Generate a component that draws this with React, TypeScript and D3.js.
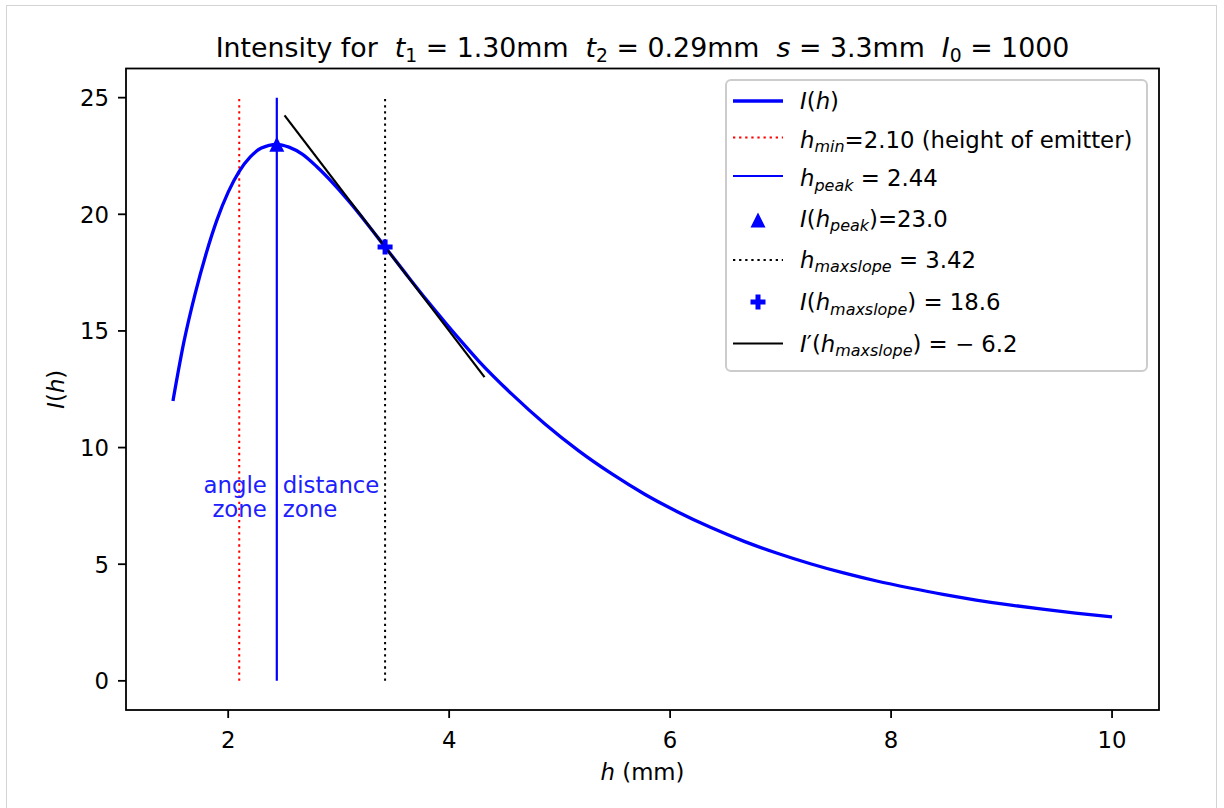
import React from 'react';
import * as d3 from 'd3';

// ---- data ----
const hValues = [1.5, 1.6, 1.7, 1.8, 1.9, 2.0, 2.1, 2.2, 2.3, 2.44, 2.55, 2.67, 2.8, 2.95, 3.1, 3.25, 3.42, 3.6, 3.8, 3.97, 4.12, 4.27, 4.57, 4.87, 5.17, 5.47, 5.77, 6.07, 6.37, 6.67, 6.97, 7.27, 7.57, 7.87, 8.17, 8.47, 8.77, 9.07, 9.37, 9.67, 10.0];
const intensityValues = [12.0, 14.55, 16.58, 18.31, 19.78, 20.95, 21.84, 22.46, 22.84, 23.0, 22.88, 22.58, 22.05, 21.33, 20.52, 19.64, 18.6, 17.5, 16.3, 15.33, 14.5, 13.7, 12.28, 11.0, 9.87, 8.88, 8.0, 7.24, 6.57, 5.98, 5.47, 5.02, 4.625, 4.28, 3.98, 3.705, 3.465, 3.255, 3.07, 2.905, 2.745];
const xTicks = [2, 4, 6, 8, 10];
const yTicks = [0, 5, 10, 15, 20, 25];
const hMin = 2.1;
const hPeak = 2.44;
const iPeak = 23.0;
const hMaxSlope = 3.42;
const iMaxSlope = 18.6;
const maxSlope = -6.2;
const tangentH = [2.51, 4.32];
const vLineSpan = [0, 25];
const xDomain = [1.075, 10.425];
const yDomain = [-1.25, 26.25];
const zoneY = 8;

type Seg = { t: string; i?: boolean; s?: boolean };

const FONT = '"DejaVu Sans", sans-serif';

function Rich(props: { x: number; y: number; segs: Seg[]; size: number; anchor?: string; fill?: string; transform?: string }) {
  const { x, y, segs, size, anchor, fill, transform } = props;
  const shift = size * 0.2;
  let inSub = false;
  return (
    <text x={x} y={y} fontSize={size} fontFamily={FONT} textAnchor={anchor || 'start'} fill={fill || '#000'} transform={transform} style={{ whiteSpace: 'pre' }}>
      {segs.map((sg, k) => {
        let dy = 0;
        if (sg.s && !inSub) { dy = shift; inSub = true; }
        else if (!sg.s && inSub) { dy = -shift; inSub = false; }
        return (
          <tspan key={k} dy={dy || undefined} fontStyle={sg.i ? 'italic' : 'normal'} fontSize={sg.s ? size * 0.7 : size}>
            {sg.t}
          </tspan>
        );
      })}
    </text>
  );
}

export default function App() {
  const W = 1224, H = 808;
  const left = 126, right = 1159, top = 68.5, bottom = 710;
  const x = d3.scaleLinear().domain(xDomain).range([left, right]);
  const y = d3.scaleLinear().domain(yDomain).range([bottom, top]);

  const pts: [number, number][] = hValues.map((h, i) => [h, intensityValues[i]]);
  const line = d3.line<[number, number]>().x(d => x(d[0])).y(d => y(d[1])).curve(d3.curveMonotoneX);
  const curvePath = line(pts) || '';

  const tangentPts: [number, number][] = tangentH.map(h => [h, iMaxSlope + maxSlope * (h - hMaxSlope)]);
  const tangentPath = d3.line<[number, number]>().x(d => x(d[0])).y(d => y(d[1]))(tangentPts) || '';

  const tri = (cx: number, cy: number, s: number) => `M${cx},${cy - s / 2}L${cx + s / 2},${cy + s / 2}L${cx - s / 2},${cy + s / 2}Z`;
  const cross = d3.symbol(d3.symbolCross, 125)() || '';

  const fs = 22.8;
  const dotted = '2.3,3.8';
  const lwMain = 3.3, lwThin = 2.2, lwDot = 2.0, lwSpine = 1.8;

  // legend
  const lgX = 726, lgY = 80, lgW = 421, lgH = 291;
  const handleY = [101, 137.5, 176, 220, 260, 302, 343.5];
  const textY = [108.5, 147.5, 186, 226.5, 267.5, 310, 351.5];
  const hx0 = 733, hx1 = 783, tx = 800;
  const legendLabels: Seg[][] = [
    [{ t: 'I', i: true }, { t: '(' }, { t: 'h', i: true }, { t: ')' }],
    [{ t: 'h', i: true }, { t: 'min', i: true, s: true }, { t: '=2.10 (height of emitter)' }],
    [{ t: 'h', i: true }, { t: 'peak', i: true, s: true }, { t: ' = 2.44' }],
    [{ t: 'I', i: true }, { t: '(' }, { t: 'h', i: true }, { t: 'peak', i: true, s: true }, { t: ')=23.0' }],
    [{ t: 'h', i: true }, { t: 'maxslope', i: true, s: true }, { t: ' = 3.42' }],
    [{ t: 'I', i: true }, { t: '(' }, { t: 'h', i: true }, { t: 'maxslope', i: true, s: true }, { t: ') = 18.6' }],
    [{ t: 'I', i: true }, { t: '′(' }, { t: 'h', i: true }, { t: 'maxslope', i: true, s: true }, { t: ') = − 6.2' }],
  ];

  const titleSegs: Seg[] = [
    { t: 'Intensity for  ' }, { t: 't', i: true }, { t: '1', s: true }, { t: ' = 1.30mm  ' },
    { t: 't', i: true }, { t: '2', s: true }, { t: ' = 0.29mm  ' },
    { t: 's', i: true }, { t: ' = 3.3mm  ' },
    { t: 'I', i: true }, { t: '0', s: true }, { t: ' = 1000' },
  ];

  const xp = x(hPeak);

  return (
    <svg width={W} height={H} style={{ position: 'absolute', left: 0, top: 0, background: '#fff' }}>
      <rect x={6.5} y={5.5} width={1210} height={810} fill="#fff" stroke="#d4d4d4" strokeWidth={1} />
      <defs>
        <clipPath id="plotclip"><rect x={left} y={top} width={right - left} height={bottom - top} /></clipPath>
      </defs>

      {/* title */}
      <Rich x={(left + right) / 2} y={57} segs={titleSegs} size={26.8} anchor="middle" />

      {/* vertical lines */}
      <line x1={x(hMin)} x2={x(hMin)} y1={y(vLineSpan[0])} y2={y(vLineSpan[1])} stroke="red" strokeWidth={lwDot} strokeDasharray={dotted} />
      <line x1={xp} x2={xp} y1={y(vLineSpan[0])} y2={y(vLineSpan[1])} stroke="blue" strokeWidth={lwThin} />
      <line x1={x(hMaxSlope)} x2={x(hMaxSlope)} y1={y(vLineSpan[0])} y2={y(vLineSpan[1])} stroke="#000" strokeWidth={lwDot} strokeDasharray={dotted} />

      {/* curve */}
      <path d={curvePath} fill="none" stroke="blue" strokeWidth={lwMain} clipPath="url(#plotclip)" />
      {/* tangent */}
      <path d={tangentPath} fill="none" stroke="#000" strokeWidth={lwThin} />

      {/* markers */}
      <path d={tri(xp, y(iPeak), 15)} fill="blue" />
      <path d={cross} transform={`translate(${x(hMaxSlope)},${y(iMaxSlope)})`} fill="blue" />

      {/* zone annotations */}
      <text fontFamily={FONT} fontSize={fs} fill="#2020ff" textAnchor="end">
        <tspan x={xp - 10} y={y(zoneY) - 1.5}>angle</tspan>
        <tspan x={xp - 10} y={y(zoneY) + 23}>zone</tspan>
      </text>
      <text fontFamily={FONT} fontSize={fs} fill="#2020ff" textAnchor="start">
        <tspan x={xp + 6} y={y(zoneY) - 1.5}>distance</tspan>
        <tspan x={xp + 6} y={y(zoneY) + 23}>zone</tspan>
      </text>

      {/* axes frame */}
      <rect x={left} y={top} width={right - left} height={bottom - top} fill="none" stroke="#000" strokeWidth={lwSpine} />

      {/* x ticks */}
      {xTicks.map(t => (
        <g key={'x' + t}>
          <line x1={x(t)} x2={x(t)} y1={bottom} y2={bottom + 8} stroke="#000" strokeWidth={lwSpine} />
          <text x={x(t)} y={bottom + 38} fontSize={fs} fontFamily={FONT} textAnchor="middle">{t}</text>
        </g>
      ))}
      {/* y ticks */}
      {yTicks.map(t => (
        <g key={'y' + t}>
          <line x1={left} x2={left - 8} y1={y(t)} y2={y(t)} stroke="#000" strokeWidth={lwSpine} />
          <text x={left - 17} y={y(t) + 8.3} fontSize={fs} fontFamily={FONT} textAnchor="end">{t}</text>
        </g>
      ))}

      {/* axis labels */}
      <Rich x={(left + right) / 2} y={780} size={fs} anchor="middle" segs={[{ t: 'h', i: true }, { t: ' (mm)' }]} />
      <Rich x={0} y={0} size={fs} anchor="middle" transform={`translate(64,${(top + bottom) / 2}) rotate(-90)`} segs={[{ t: 'I', i: true }, { t: '(' }, { t: 'h', i: true }, { t: ')' }]} />

      {/* legend */}
      <rect x={lgX} y={lgY} width={lgW} height={lgH} rx={5} fill="#fff" fillOpacity={0.8} stroke="#cccccc" strokeWidth={2} />
      <line x1={hx0} x2={hx1} y1={handleY[0]} y2={handleY[0]} stroke="blue" strokeWidth={lwMain} />
      <line x1={hx0} x2={hx1} y1={handleY[1]} y2={handleY[1]} stroke="red" strokeWidth={lwDot} strokeDasharray={dotted} />
      <line x1={hx0} x2={hx1} y1={handleY[2]} y2={handleY[2]} stroke="blue" strokeWidth={lwThin} />
      <path d={tri((hx0 + hx1) / 2, handleY[3], 15)} fill="blue" />
      <line x1={hx0} x2={hx1} y1={handleY[4]} y2={handleY[4]} stroke="#000" strokeWidth={lwDot} strokeDasharray={dotted} />
      <path d={cross} transform={`translate(${(hx0 + hx1) / 2},${handleY[5]})`} fill="blue" />
      <line x1={hx0} x2={hx1} y1={handleY[6]} y2={handleY[6]} stroke="#000" strokeWidth={lwThin} />
      {legendLabels.map((segs, i) => (
        <Rich key={'lg' + i} x={tx} y={textY[i]} size={fs} segs={segs} />
      ))}
    </svg>
  );
}
